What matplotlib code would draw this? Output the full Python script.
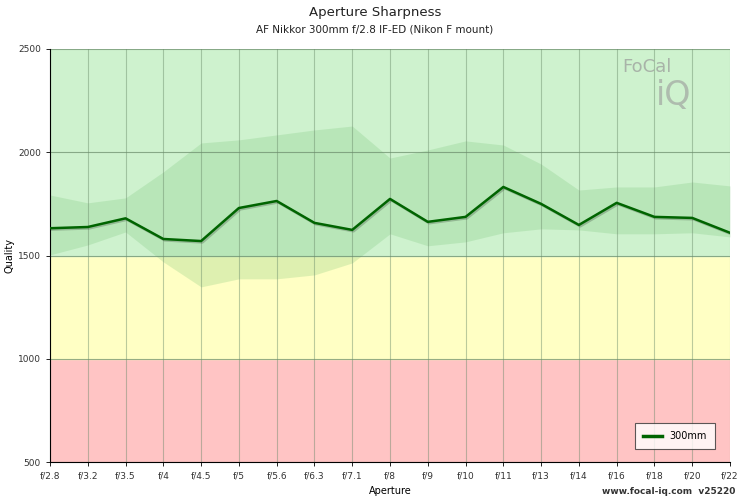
import matplotlib
matplotlib.use("Agg")
import matplotlib.pyplot as plt
from matplotlib.lines import Line2D
import matplotlib.patheffects as pe

apertures = ["f/2.8","f/3.2","f/3.5","f/4","f/4.5","f/5","f/5.6","f/6.3","f/7.1","f/8",
             "f/9","f/10","f/11","f/13","f/14","f/16","f/18","f/20","f/22"]
quality = [1632,1638,1680,1580,1570,1730,1764,1658,1624,1774,1663,1687,1832,1750,1648,1755,1687,1682,1610]
upper = [1793,1755,1779,1905,2045,2060,2084,2108,2127,1972,2011,2055,2035,1943,1817,1832,1832,1856,1837]
lower = [1503,1551,1614,1469,1348,1387,1387,1406,1464,1605,1547,1566,1610,1629,1624,1605,1605,1610,1590]
yticks = [500,1000,1500,2000,2500]

fig = plt.figure(figsize=(7.5,5), dpi=100)
ax = fig.add_axes([50/750, 38/500, 680/750, 413/500])
x = list(range(len(apertures)))
ax.axhspan(500,1000,color="#ffc4c4",zorder=0)
ax.axhspan(1000,1500,color="#ffffc4",zorder=0)
ax.axhspan(1500,2500,color="#cef2ce",zorder=0)
ax.fill_between(x, lower, upper, color="#6cbf6c", alpha=0.22, lw=0, zorder=1)
for xi in x:
    ax.axvline(xi, color="#6a8a6a", alpha=0.45, lw=0.8, zorder=2)
for yv in yticks:
    ax.axhline(yv, color="#6a8a6a", alpha=0.7, lw=0.8, zorder=2)
ax.plot(x, quality, color="#006400", lw=1.8, zorder=3,
        path_effects=[pe.SimpleLineShadow(offset=(1,-1), alpha=0.2), pe.Normal()])
ax.set_xlim(0, len(x)-1)
ax.set_ylim(500,2500)
ax.set_xticks(x)
ax.set_xticklabels(apertures, fontsize=6.5, color="#333")
ax.set_yticks(yticks)
ax.set_yticklabels([str(v) for v in yticks], fontsize=6.5, color="#333")
ax.set_xlabel("Aperture", fontsize=7, labelpad=4)
ax.set_ylabel("Quality", fontsize=7)
ax.yaxis.set_label_coords(-0.052, 0.5)
for s in ["top","right"]:
    ax.spines[s].set_visible(False)
ax.tick_params(length=3, width=0.6)
fig.text(0.5, 0.968, "Aperture Sharpness", ha="center", fontsize=9.5, color="#222")
fig.text(0.5, 0.935, "AF Nikkor 300mm f/2.8 IF-ED (Nikon F mount)", ha="center", fontsize=7.5, color="#222")
leg = ax.legend([Line2D([0],[0],color="#006400",lw=2.5)], ["300mm"], loc="lower right",
                fontsize=7, frameon=True, fancybox=False, edgecolor="#333",
                bbox_to_anchor=(0.985,0.02), handlelength=2, borderpad=0.8)
leg.get_frame().set_linewidth(0.8)
fig.text(0.98, 0.012, "www.focal-iq.com  v25220", ha="right", fontsize=6.5, color="#333", fontweight="bold")
fig.text(0.83, 0.855, "FoCal", fontsize=13, color="#999", alpha=0.7)
fig.text(0.875, 0.79, "iQ", fontsize=24, color="#999", alpha=0.6)
fig.savefig("out.png", dpi=100)
